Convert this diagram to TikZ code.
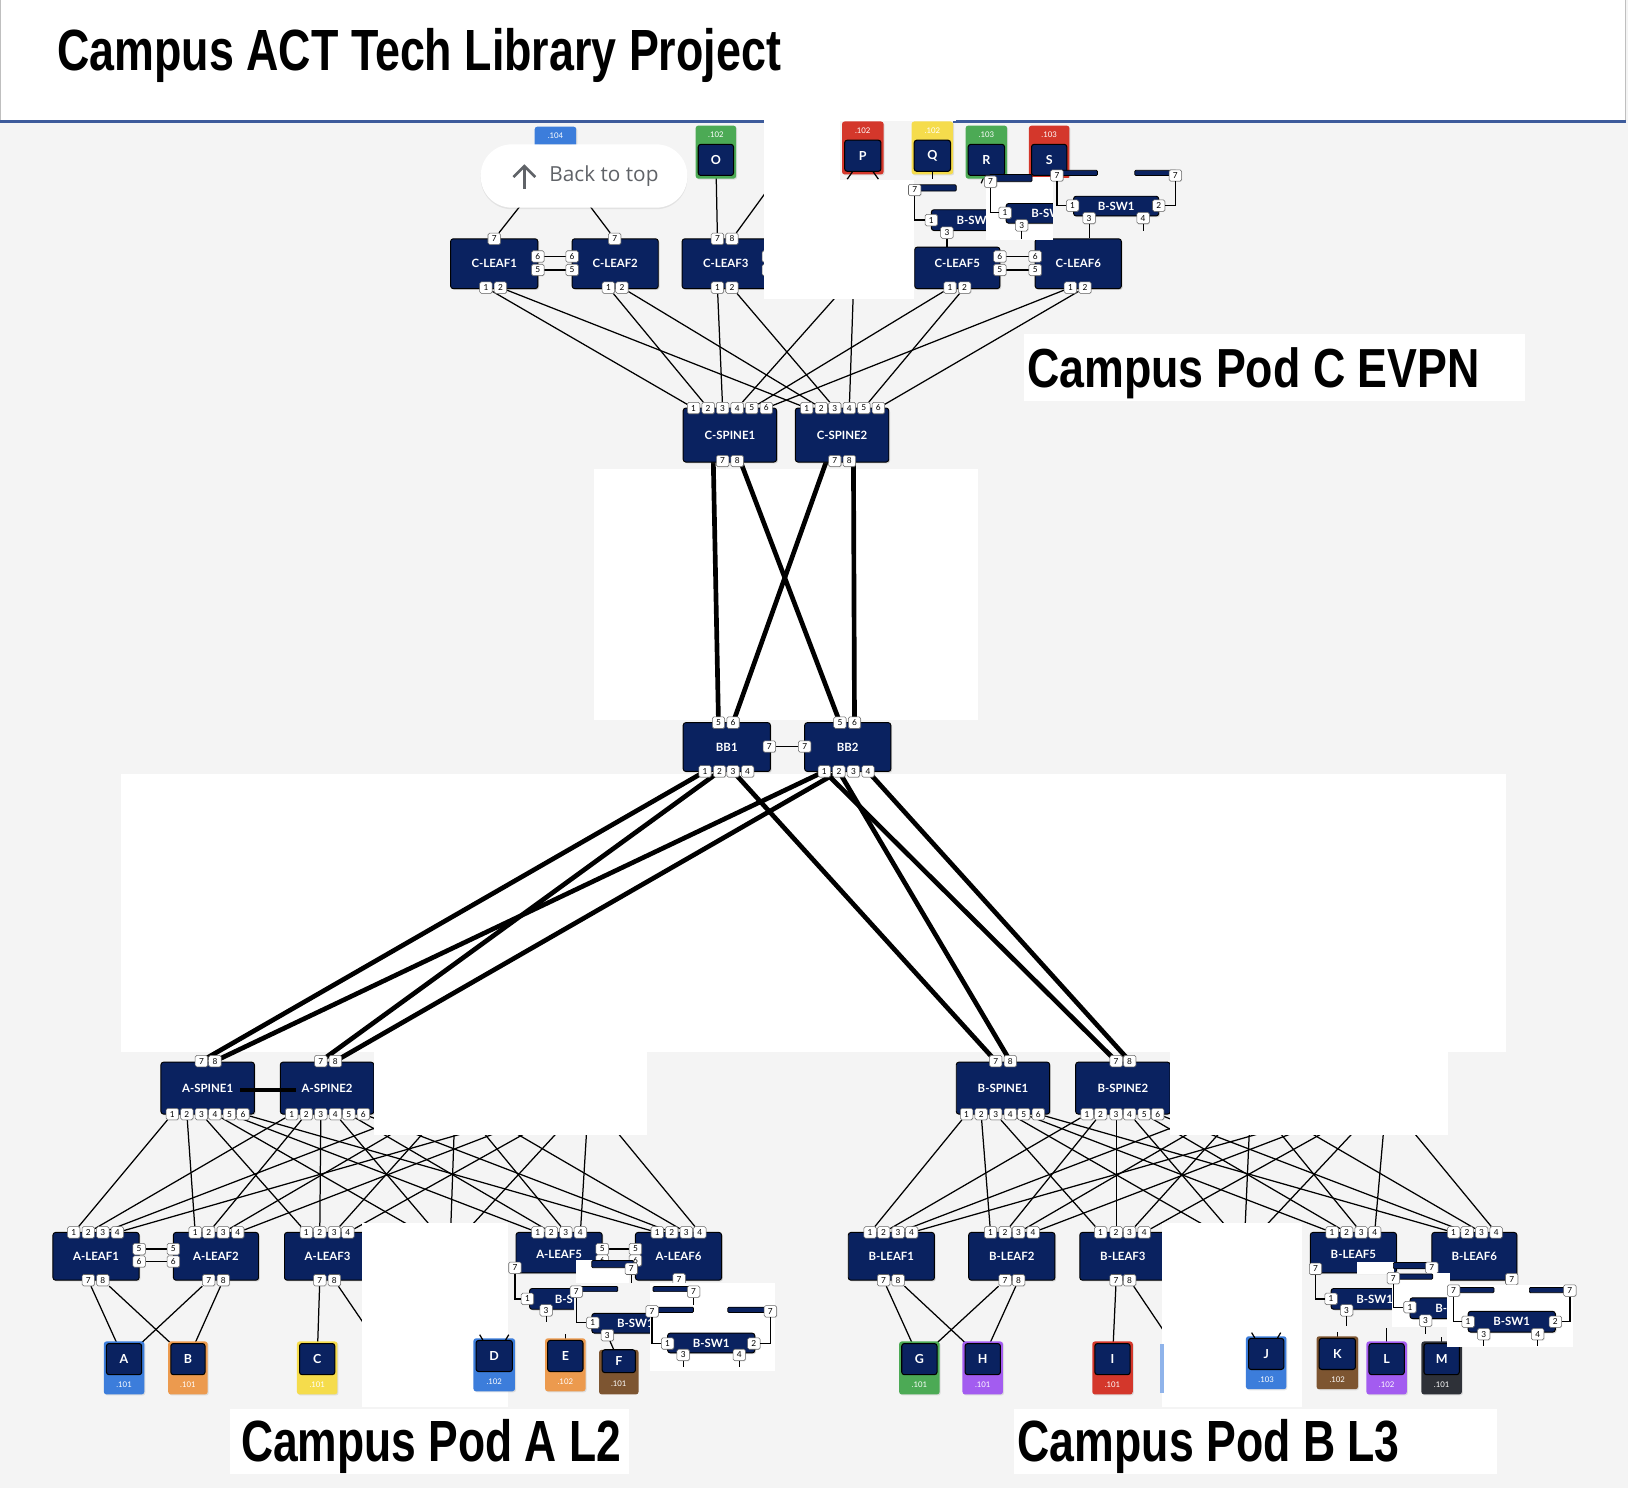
\documentclass[tikz,border=0pt]{standalone}
\usepackage{fontspec}
\usepackage{graphicx}
\usetikzlibrary{shadows}
\newfontfamily\lato{Lato}
\newfontfamily\titlef{Liberation Sans}
\newfontfamily\btnf{Open Sans}
\definecolor{bgc}{HTML}{F4F4F4}
\definecolor{navy}{HTML}{0A2260}
\definecolor{hdrline}{HTML}{3D5B9B}
\definecolor{dblue}{HTML}{3C7DDB}
\definecolor{dorange}{HTML}{EC9A4E}
\definecolor{dyellow}{HTML}{F5DC4C}
\definecolor{dgreen}{HTML}{4CAA55}
\definecolor{dpurple}{HTML}{A35CF0}
\definecolor{dred}{HTML}{D4372B}
\definecolor{dbrown}{HTML}{7D5531}
\definecolor{ddark}{HTML}{2E3138}
\definecolor{dlblue}{HTML}{8FB3EA}
\definecolor{btntext}{HTML}{606368}
\pgfdeclarelayer{base}
\pgfdeclarelayer{lines}
\pgfdeclarelayer{patch}
\pgfdeclarelayer{top}
\pgfsetlayers{base,lines,main,patch,top}
\tikzset{
 sw/.style={draw=black, line width=0.9pt, fill=navy, rounded corners=2.5pt, text=white,
   font=\lato\bfseries\fontsize{11}{13}\selectfont, inner sep=0pt,
   drop shadow={opacity=0.3,shadow xshift=1.2pt,shadow yshift=-1.2pt}},
 swlab/.style={text=white, font=\lato\bfseries\fontsize{11}{13}\selectfont, inner sep=0pt},
 prt/.style={draw=black!60, fill=white, line width=0.5pt, rounded corners=1.5pt,
   minimum width=12pt, minimum height=11pt, inner sep=0pt, text=black,
   font=\lato\fontsize{8}{9}\selectfont,
   drop shadow={opacity=0.25,shadow xshift=0.6pt,shadow yshift=-0.6pt}},
 dev/.style={draw=black, line width=1pt, fill=navy, rounded corners=2.5pt,
   minimum height=30pt, inner sep=0pt, text=white,
   font=\lato\bfseries\fontsize{12}{14}\selectfont},
 ipl/.style={text=white, font=\lato\fontsize{7.5}{9}\selectfont, inner sep=0pt},
 mesh/.style={line width=1.2pt, black},
 trunk/.style={line width=4.5pt, black},
 bar/.style={fill=navy, draw=black, line width=0.7pt, rounded corners=1pt},
 bigtext/.style={anchor=base west, inner sep=0pt},
}
\newcommand\swbox[6]{\node[sw, minimum width=#4pt-#2pt, minimum height=#5pt-#3pt] (#1) at ({(#2+#4)/2},{(#3+#5)/2}) {#6};}
\newcommand\prt[4]{\node[prt] (#1) at (#2,#3) {#4};}
\newcommand\devb[7]{%
 \fill[#5, rounded corners=2.5pt, drop shadow={opacity=0.2,shadow xshift=1pt,shadow yshift=-1pt}] (#2,#3) rectangle (#4,{#3+51});
 \node[dev, minimum width=#4pt-#2pt-5pt] (#1) at ({(#2+#4)/2},{#3+17}) {#6};
 \node[ipl] (#1-ip) at ({(#2+#4)/2},{#3+42}) {#7};}
\newcommand\devt[7]{%
 \fill[#5, rounded corners=2.5pt, drop shadow={opacity=0.2,shadow xshift=1pt,shadow yshift=-1pt}] (#2,#3) rectangle (#4,{#3+51});
 \node[dev, minimum width=#4pt-#2pt-5pt] (#1) at ({(#2+#4)/2},{#3+33}) {#6};
 \node[ipl] (#1-ip) at ({(#2+#4)/2},{#3+9}) {#7};}
\begin{document}
\begin{tikzpicture}[x=1pt,y=-1pt]
\useasboundingbox (0,0) rectangle (1568,1433);
% ---------------- base ----------------
\begin{pgfonlayer}{base}
 \fill[bgc] (0,0) rectangle (1568,1433);
 \fill[white] (0,0) rectangle (1566,116);
 \draw[black!25, line width=1pt] (0.5,0) -- (0.5,116);
 \draw[black!25, line width=1pt] (1566,0) -- (1566,116);
 \draw[hdrline, line width=3pt] (0,117) -- (1566,117);
 \node[bigtext] (title) at (55,68) {\resizebox{697pt}{\height}{\titlef\bfseries\fontsize{56}{60}\selectfont Campus ACT Tech Library Project}};
 \fill[white] (572,452) rectangle (942,693);
 \fill[white] (117,745) rectangle (1450,1013);
 \fill[white] (986,322) rectangle (1469,386);
 \fill[white] (222,1357) rectangle (606,1420);
 \fill[white] (977,1357) rectangle (1442,1420);
 \node[bigtext] (podc) at (989,373) {\resizebox{436pt}{\height}{\titlef\bfseries\fontsize{53}{60}\selectfont Campus Pod C EVPN}};
 \node[bigtext] (poda) at (232,1408) {\resizebox{366pt}{\height}{\titlef\bfseries\fontsize{56}{60}\selectfont Campus Pod A L2}};
 \node[bigtext] (podb) at (980,1408) {\resizebox{368pt}{\height}{\titlef\bfseries\fontsize{56}{60}\selectfont Campus Pod B L3}};
\end{pgfonlayer}
% ---------------- main: switches ----------------
\swbox{cl1}{434}{230}{518}{278}{C-LEAF1}
\swbox{cl2}{551}{230}{634}{278}{C-LEAF2}
\swbox{cl3}{657}{230}{741}{278}{C-LEAF3}
\swbox{cl5}{881}{238}{963}{278}{}
\node[swlab] (cl5-lab) at (922,254) {C-LEAF5};
\swbox{cl6}{997}{230}{1080}{278}{C-LEAF6}
\swbox{cs1}{658}{393}{748}{445}{C-SPINE1}
\swbox{cs2}{766}{393}{856}{445}{C-SPINE2}
\swbox{bb1}{658}{696}{742}{743}{BB1}
\swbox{bb2}{775}{696}{858}{743}{BB2}
\swbox{as1}{155}{1023}{245}{1073}{A-SPINE1}
\swbox{as2}{270}{1023}{360}{1073}{A-SPINE2}
\swbox{bs1}{921}{1023}{1011}{1073}{B-SPINE1}
\swbox{bs2}{1036}{1023}{1127}{1073}{B-SPINE2}
\swbox{al1}{51}{1187}{134}{1233}{A-LEAF1}
\swbox{al2}{167}{1187}{249}{1233}{A-LEAF2}
\swbox{al3}{274}{1187}{357}{1233}{A-LEAF3}
\swbox{al5}{497}{1187}{580}{1226}{}
\node[swlab] (al5-lab) at (538.5,1208) {A-LEAF5};
\swbox{al6}{612}{1187}{695}{1233}{A-LEAF6}
\swbox{bl1}{817}{1187}{900}{1233}{B-LEAF1}
\swbox{bl2}{933}{1187}{1016}{1233}{B-LEAF2}
\swbox{bl3}{1040}{1187}{1123}{1233}{B-LEAF3}
\swbox{bl5}{1262}{1187}{1345}{1226}{}
\node[swlab] (bl5-lab) at (1303.5,1208) {B-LEAF5};
\swbox{bl6}{1379}{1187}{1461}{1233}{B-LEAF6}
% ---------------- ports ----------------
\prt{cl1-7}{476}{230}{7}\prt{cl1-6}{518}{247}{6}\prt{cl1-5}{518}{260}{5}\prt{cl1-1}{468}{277}{1}\prt{cl1-2}{482}{277}{2}
\prt{cl2-7}{592}{230}{7}\prt{cl2-6}{551}{247}{6}\prt{cl2-5}{551}{260}{5}\prt{cl2-1}{586}{277}{1}\prt{cl2-2}{599}{277}{2}
\prt{cl3-7}{691}{230}{7}\prt{cl3-8}{705}{230}{8}\prt{cl3-6}{740}{247}{6}\prt{cl3-5}{740}{260}{5}\prt{cl3-1}{691}{277}{1}\prt{cl3-2}{705}{277}{2}
\prt{cl5-6}{963}{247}{6}\prt{cl5-5}{963}{260}{5}\prt{cl5-1}{915}{277}{1}\prt{cl5-2}{929}{277}{2}
\prt{cl6-6}{997}{247}{6}\prt{cl6-5}{997}{260}{5}\prt{cl6-1}{1031}{277}{1}\prt{cl6-2}{1045}{277}{2}
\coordinate (cl4-1) at (813,277);
\coordinate (cl4-2) at (822,277);
\foreach \n/\x in {1/668,2/682,3/696,4/710,5/724,6/738}{\node[prt] (cs1-\n) at (\x,393) {\n};}
\foreach \n/\x in {1/777,2/791,3/804,4/818,5/832,6/846}{\node[prt] (cs2-\n) at (\x,393) {\n};}
\prt{cs1-7}{696}{444}{7}\prt{cs1-8}{710}{444}{8}
\prt{cs2-7}{804}{444}{7}\prt{cs2-8}{818}{444}{8}
\prt{bb1-5}{692}{696}{5}\prt{bb1-6}{706}{696}{6}\prt{bb1-7}{741}{719}{7}
\foreach \n/\x in {1/679,2/693,3/706,4/720}{\node[prt] (bb1-\n) at (\x,743) {\n};}
\prt{bb2-5}{809}{696}{5}\prt{bb2-6}{823}{696}{6}\prt{bb2-7}{775}{719}{7}
\foreach \n/\x in {1/794,2/808,3/822,4/836}{\node[prt] (bb2-\n) at (\x,743) {\n};}
\prt{as1-7}{194}{1022}{7}\prt{as1-8}{207}{1022}{8}
\foreach \n/\x in {1/166,2/180,3/194,4/207,5/221,6/234}{\node[prt] (as1-\n) at (\x,1073) {\n};}
\prt{as2-7}{309}{1022}{7}\prt{as2-8}{323}{1022}{8}
\foreach \n/\x in {1/281,2/295,3/309,4/323,5/336,6/350}{\node[prt] (as2-\n) at (\x,1073) {\n};}
\foreach \n/\x in {1/396,2/410,3/424,4/438,5/451,6/465}{\coordinate (as3-\n) at (\x,1073);}
\foreach \n/\x in {1/511,2/525,3/539,4/553,5/566,6/580}{\coordinate (as4-\n) at (\x,1073);}
\prt{bs1-7}{959}{1022}{7}\prt{bs1-8}{973}{1022}{8}
\foreach \n/\x in {1/931,2/945,3/959,4/973,5/986,6/1000}{\node[prt] (bs1-\n) at (\x,1073) {\n};}
\prt{bs2-7}{1075}{1022}{7}\prt{bs2-8}{1088}{1022}{8}
\foreach \n/\x in {1/1047,2/1060,3/1075,4/1088,5/1102,6/1115}{\node[prt] (bs2-\n) at (\x,1073) {\n};}
\foreach \n/\x in {1/1163,2/1177,3/1191,4/1204,5/1218,6/1231}{\coordinate (bs3-\n) at (\x,1073);}
\foreach \n/\x in {1/1279,2/1293,3/1307,4/1320,5/1334,6/1347}{\coordinate (bs4-\n) at (\x,1073);}
\foreach \n/\x in {1/71,2/85,3/99,4/113}{\node[prt] (al1-\n) at (\x,1187) {\n};}
\prt{al1-5}{134}{1203}{5}\prt{al1-6}{134}{1215}{6}\prt{al1-7}{85}{1233}{7}\prt{al1-8}{99}{1233}{8}
\foreach \n/\x in {1/188,2/201,3/215,4/229}{\node[prt] (al2-\n) at (\x,1187) {\n};}
\prt{al2-5}{167}{1203}{5}\prt{al2-6}{167}{1215}{6}\prt{al2-7}{201}{1233}{7}\prt{al2-8}{215}{1233}{8}
\foreach \n/\x in {1/295,2/308,3/322,4/335}{\node[prt] (al3-\n) at (\x,1187) {\n};}
\prt{al3-7}{308}{1233}{7}\prt{al3-8}{322}{1233}{8}
\foreach \n/\x in {1/406,2/420,3/434,4/448}{\coordinate (al4-\n) at (\x,1187);}
\foreach \n/\x in {1/518,2/531,3/545,4/559}{\node[prt] (al5-\n) at (\x,1187) {\n};}
\prt{al5-5}{580}{1203}{5}\prt{al5-6}{580}{1214}{6}\prt{al5-7}{496}{1221}{7}
\foreach \n/\x in {1/633,2/647,3/661,4/674}{\node[prt] (al6-\n) at (\x,1187) {\n};}
\prt{al6-5}{612}{1203}{5}\prt{al6-6}{612}{1214}{6}\prt{al6-7}{654}{1232}{7}
\foreach \n/\x in {1/838,2/851,3/865,4/878}{\node[prt] (bl1-\n) at (\x,1187) {\n};}
\prt{bl1-7}{851}{1233}{7}\prt{bl1-8}{865}{1233}{8}
\foreach \n/\x in {1/954,2/968,3/981,4/995}{\node[prt] (bl2-\n) at (\x,1187) {\n};}
\prt{bl2-7}{968}{1233}{7}\prt{bl2-8}{981}{1233}{8}
\foreach \n/\x in {1/1060,2/1075,3/1088,4/1102}{\node[prt] (bl3-\n) at (\x,1187) {\n};}
\prt{bl3-7}{1075}{1233}{7}\prt{bl3-8}{1088}{1233}{8}
\foreach \n/\x in {1/1172,2/1186,3/1199,4/1213}{\coordinate (bl4-\n) at (\x,1187);}
\foreach \n/\x in {1/1283,2/1297,3/1311,4/1324}{\node[prt] (bl5-\n) at (\x,1187) {\n};}
\prt{bl5-7}{1267}{1222}{7}
\foreach \n/\x in {1/1400,2/1413,3/1427,4/1441}{\node[prt] (bl6-\n) at (\x,1187) {\n};}
\prt{bl6-7}{1456}{1232}{7}
% ---------------- main: end devices ----------------
\devt{h104}{515}{122}{555}{dblue}{}{.104}
\devt{hO}{670}{121}{709}{dgreen}{O}{.102}
\devt{hR}{930}{121}{970}{dgreen}{R}{.103}
\devt{hS}{991}{121}{1030}{dred}{S}{.103}
\devb{hA}{100}{1292}{139}{dblue}{A}{.101}
\devb{hB}{162}{1292}{200}{dorange}{B}{.101}
\devb{hC}{286}{1292}{325}{dyellow}{C}{.101}
\devb{hE}{525}{1289}{564}{dorange}{E}{.102}
\devb{hG}{866}{1292}{905}{dgreen}{G}{.101}
\devb{hH}{927}{1292}{966}{dpurple}{H}{.101}
\devb{hI}{1052}{1292}{1091}{dred}{I}{.101}
\devb{hK}{1268}{1287}{1308}{dbrown}{K}{.102}
\devb{hL}{1316}{1292}{1355}{dpurple}{L}{.102}
\devb{hM}{1369}{1292}{1408}{ddark}{M}{.101}
% ---------------- lines ----------------
\begin{pgfonlayer}{lines}
 % trunks
 \draw[trunk] ([xshift=-9pt]cs1-7.center) -- (bb1-5.center);
 \draw[trunk] ([xshift=3pt]cs1-8.center) -- (bb2-5.center);
 \draw[trunk] ([xshift=-8pt]cs2-7.center) -- (bb1-6.center);
 \draw[trunk] ([xshift=4pt]cs2-8.center) -- (bb2-6.center);
 \draw[trunk] (bb1-1.center) -- (as1-7.center);
 \draw[trunk] (bb1-2.center) -- (as2-7.center);
 \draw[trunk] (bb2-1.center) -- (as1-8.center);
 \draw[trunk] (bb2-2.center) -- (as2-8.center);
 \draw[trunk] (bb1-3.center) -- (bs1-7.center);
 \draw[trunk] (bb2-2.center) -- (bs1-8.center);
 \draw[trunk] (bb2-1.center) -- (bs2-7.center);
 \draw[trunk] (bb2-4.center) -- (bs2-8.center);
 % meshes
 \foreach \k in {1,...,6}{\foreach \j in {1,2}{\draw[mesh] (cl\k-\j) -- (cs\j-\k);}}
 \foreach \k in {1,...,6}{\foreach \j in {1,...,4}{\draw[mesh] (al\k-\j) -- (as\j-\k);}}
 \foreach \k in {1,...,6}{\foreach \j in {1,...,4}{\draw[mesh] (bl\k-\j) -- (bs\j-\k);}}
 % peer links
 \draw[mesh] (cl1-6) -- (cl2-6); \draw[mesh] (cl1-5) -- (cl2-5);
 \draw[mesh] (cl5-6) -- (cl6-6); \draw[mesh] (cl5-5) -- (cl6-5);
 \draw[mesh] (al1-5) -- (al2-5); \draw[mesh] (al1-6) -- (al2-6);
 \draw[mesh] (al5-5) -- (al6-5); \draw[mesh] (al5-6) -- (al6-6);
 \draw[mesh] (bb1-7) -- (bb2-7);
 % hosts
 \draw[mesh] (hO) -- (cl3-7);
 \coordinate (cl3x) at (745,175);
 \draw[mesh] (cl3-8) -- (cl3x);
 \draw[mesh] (cl1-7) -- ([xshift=-12pt]h104.south);
 \draw[mesh] (cl2-7) -- ([xshift=12pt]h104.south);
 \draw[mesh] ([xshift=-2pt]hR.south) -- ++(-3,7);
 \draw[mesh] (al1-7) -- (hA); \draw[mesh] (al1-8) -- (hB);
 \draw[mesh] (al2-7) -- (hA); \draw[mesh] (al2-8) -- (hB);
 \draw[mesh] (al3-7) -- (hC);
 \coordinate (al3x) at (356,1283);
 \draw[mesh] (al3-8) -- (al3x);
 \draw[mesh] (hE.north) -- ++(0,-6);
 \draw[mesh] (bl1-7) -- (hG); \draw[mesh] (bl1-8) -- (hH);
 \draw[mesh] (bl2-7) -- (hG); \draw[mesh] (bl2-8) -- (hH);
 \draw[mesh] (bl3-7) -- (hI);
 \coordinate (bl3x) at (1125,1288);
 \draw[mesh] (bl3-8) -- (bl3x);
 \draw[mesh] (hK.north) -- ++(0,-6);
 \draw[mesh] (hL.north) -- ++(0,-14);
 \draw[mesh] (hM.north) -- ++(0,-6);
\end{pgfonlayer}
% ---------------- patches ----------------
\begin{pgfonlayer}{patch}
 \fill[white] (736,110) rectangle (880,288);
 \fill[white] (880,110) rectangle (921,117);
 \fill[bgc] (809,117) rectangle (918,173);
 \fill[white] (349,1178) rectangle (489,1355);
 \fill[white] (1119,1178) rectangle (1254,1355);
 \fill[white] (360,1013) rectangle (623,1093);
 \fill[white] (1127,1013) rectangle (1395,1093);
\end{pgfonlayer}
% ---------------- top ----------------
\begin{pgfonlayer}{top}
 \draw[trunk, line width=4pt] ([xshift=-14pt,yshift=-2pt]as1.east) -- ([xshift=16pt,yshift=-2pt]as2.west);
 % top devices on patch
 \devt{hP}{811}{117}{851}{dred}{P}{.102}
 \devt{hQ}{878}{117}{918}{dyellow}{Q}{.102}
 \draw[mesh] ([xshift=-10pt]hP.south) -- ++(-5,7);
 \draw[mesh] ([xshift=10pt]hP.south) -- ++(5,7);
 \draw[mesh] (hQ.south) -- ++(0,7);
 % top B-SW pieces
 \draw[bar] (879,178) rectangle (921,184);
 \prt{tp7a}{881}{183}{7}
 \swbox{tswa}{897}{202}{981}{222}{B-SW1}
 \prt{tswa-1}{897}{212}{1}\prt{tswa-3}{912}{224}{3}
 \draw[mesh] (tp7a) |- (tswa-1);
 \draw[mesh] (tswa-3) -- (tswa-3 |- cl5.north);
 \fill[white] (950,170) rectangle (1014,231);
 \draw[bar] (953,168) rectangle (994,175);
 \prt{tp7b}{954}{175}{7}
 \swbox{tswb}{969}{196}{1053}{215}{B-SW1}
 \prt{tswb-1}{968}{205}{1}\prt{tswb-3}{984}{217}{3}
 \draw[mesh] (tp7b) |- (tswb-1);
 \coordinate (tswb-3e) at (984,230);
 \draw[mesh] (tswb-3) -- (tswb-3e);
 \fill[bgc] (1014,171) rectangle (1140,226);
 \draw[bar] (1014,164) rectangle (1057,169);
 \draw[bar] (1093,164) rectangle (1133,169);
 \prt{tp7c}{1018}{169}{7}\prt{tp7d}{1132}{169}{7}
 \swbox{tswc}{1034}{189}{1116}{208}{B-SW1}
 \prt{tswc-1}{1033}{198}{1}\prt{tswc-2}{1116}{198}{2}\prt{tswc-3}{1049}{210}{3}\prt{tswc-4}{1101}{210}{4}
 \draw[mesh] (tp7c) |- (tswc-1);
 \draw[mesh] (tp7d) |- (tswc-2);
 \draw[mesh] (tswc-3) -- (tswc-3 |- cl6.north);
 \coordinate (tswc-4e) at (1101,222);
 \draw[mesh] (tswc-4) -- (tswc-4e);
 % A side pieces
 \fill[white] (555,1214) rectangle (606,1240);
 \draw[bar] (570,1214) rectangle (610,1221);
 \prt{xa7}{608}{1222}{7}
 \coordinate (xa7e) at (608,1240);
 \draw[mesh] (xa7) -- (xa7e);
 \swbox{bswa}{510}{1241}{594}{1261}{B-SW1}
 \prt{bswa-1}{508}{1251}{1}\prt{bswa-3}{526}{1262}{3}
 \draw[mesh] (al5-7) |- (bswa-1);
 \coordinate (bswa-3e) at (526,1273);
 \draw[mesh] (bswa-3) -- (bswa-3e);
 \fill[bgc] (553,1236) rectangle (627,1288);
 \draw[bar] (554,1239) rectangle (595,1244);
 \prt{bswb-7}{555}{1244}{7}
 \swbox{bswb}{570}{1265}{654}{1284}{B-SW1}
 \prt{bswb-1}{571}{1274}{1}
 \draw[mesh] (bswb-7) |- (bswb-1);
 \fill[dbrown, rounded corners=2.5pt] (577,1300) rectangle (615,1343);
 \node[dev, minimum width=32pt, minimum height=22pt] (hF) at (596,1311) {F};
 \node[ipl] (hF-ip) at (596,1333) {.101};
 \fill[white] (626,1236) rectangle (746,1320);
 \prt{bswb-3}{585}{1286}{3}
 \draw[mesh] (bswb-3) -- (hF);
 \draw[bar] (629,1239) rectangle (668,1244);
 \prt{xb7}{668}{1244}{7}
 \coordinate (xb7e) at (668,1257);
 \draw[mesh] (xb7) -- (xb7e);
 \draw[bar] (629,1259) rectangle (668,1264);
 \draw[bar] (701,1259) rectangle (742,1264);
 \prt{xc7}{628}{1263}{7}\prt{xd7}{742}{1263}{7}
 \swbox{bswc}{643}{1284}{727}{1303}{B-SW1}
 \prt{bswc-1}{643}{1294}{1}\prt{bswc-2}{726}{1294}{2}\prt{bswc-3}{658}{1305}{3}\prt{bswc-4}{712}{1305}{4}
 \draw[mesh] (xc7) |- (bswc-1);
 \draw[mesh] (xd7) |- (bswc-2);
 \draw[mesh] (bswc-3) -- ++(0,12);
 \draw[mesh] (bswc-4) -- ++(0,12);
 \devb{hD}{456}{1289}{496}{dblue}{D}{.102}
 \draw[mesh] ([xshift=-11pt]hD.north) -- ++(-3,-5);
 \draw[mesh] ([xshift=11pt]hD.north) -- ++(3,-5);
 % B side pieces
 \fill[white] (1307,1215) rectangle (1343,1227);
 \draw[bar] (1342,1216) rectangle (1384,1222);
 \prt{yb7}{1379}{1221}{7}
 \swbox{bswd}{1282}{1241}{1366}{1261}{B-SW1}
 \prt{bswd-1}{1282}{1251}{1}\prt{bswd-3}{1297}{1262}{3}
 \draw[mesh] (bl5-7) |- (bswd-1);
 \coordinate (bswd-3e) at (1297,1277);
 \draw[mesh] (bswd-3) -- (bswd-3e);
 \fill[white] (1341,1226) rectangle (1397,1278);
 \draw[bar] (1342,1227) rectangle (1380,1232);
 \prt{yc7}{1342}{1231}{7}
 \swbox{bswe}{1358}{1250}{1442}{1270}{B-SW1}
 \prt{bswe-1}{1358}{1259}{1}\prt{bswe-3}{1373}{1272}{3}
 \draw[mesh] (yc7) |- (bswe-1);
 \coordinate (bswe-3e) at (1373,1285);
 \draw[mesh] (bswe-3) -- (bswe-3e);
 \fill[white] (1394,1238) rectangle (1515,1297);
 \draw[bar] (1400,1240) rectangle (1439,1245);
 \draw[bar] (1473,1240) rectangle (1512,1245);
 \prt{yd7}{1400}{1243}{7}\prt{ye7}{1512}{1243}{7}
 \swbox{bswf}{1414}{1263}{1498}{1283}{B-SW1}
 \prt{bswf-1}{1414}{1273}{1}\prt{bswf-2}{1498}{1273}{2}\prt{bswf-3}{1429}{1285}{3}\prt{bswf-4}{1481}{1285}{4}
 \draw[mesh] (yd7) |- (bswf-1);
 \draw[mesh] (ye7) |- (bswf-2);
 \draw[mesh] (bswf-3) -- ++(0,11);
 \draw[mesh] (bswf-4) -- ++(0,11);
 \devb{hJ}{1200}{1287}{1239}{dblue}{J}{.103}
 \draw[mesh] ([xshift=-11pt]hJ.north) -- ++(-3,-5);
 \draw[mesh] ([xshift=11pt]hJ.north) -- ++(3,-5);
 \fill[dlblue] (1117,1294) rectangle (1121,1342);
 % back to top button
 \node[fill=white, rounded corners=30pt, minimum width=199pt, minimum height=61pt, inner sep=0pt,
   drop shadow={opacity=0.15,shadow xshift=0pt,shadow yshift=-1.5pt}] (btn) at (562.5,169.5) {};
 \draw[btntext, line width=2.5pt] (505,182) -- (505,160);
 \draw[btntext, line width=2.5pt] (494.5,170.5) -- (505,160) -- (515.5,170.5);
 \node[anchor=west, inner sep=0pt, text=btntext, font=\btnf\fontsize{20}{24}\selectfont] (btntx) at (529,170) {Back to top};
\end{pgfonlayer}
\end{tikzpicture}
\end{document}
